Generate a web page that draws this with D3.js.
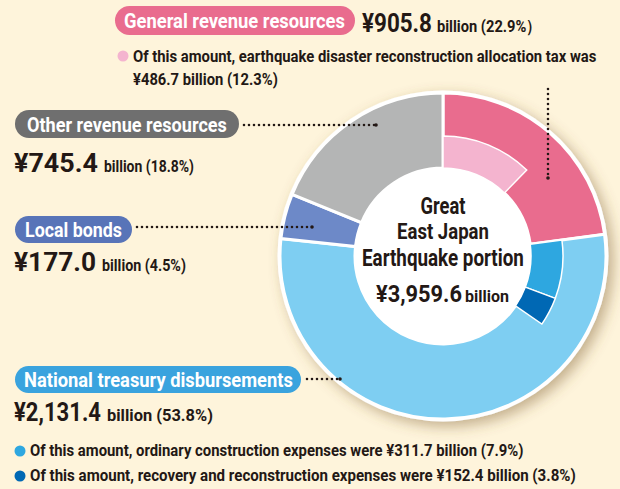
<!DOCTYPE html>
<html><head><meta charset="utf-8">
<script src="https://cdn.jsdelivr.net/npm/d3@7"></script>
<style>
html,body{margin:0;padding:0;background:#FEF4DB;}
svg{display:block;}
text{font-family:"Roboto","Liberation Sans",sans-serif;font-weight:bold;fill:#231815;}
</style></head>
<body>
<svg id="c" width="620" height="489"></svg>
<script>
// ---- data ----
const categories = ["General revenue resources","National treasury disbursements","Local bonds","Other revenue resources"];
const values = [905.8, 2131.4, 177.0, 745.4];           // ¥ billion
const shares = ["22.9%","53.8%","4.5%","18.8%"];
const colors = ["#E96C8E","#7ECEF2","#6D89C8","#B4B5B5"];
const pillColors = ["#E96C8E","#3AA3DE","#5874B8","#6F6F6F"];
// sub-portions (inside parent category)
const subParents = [0, 1, 1];
const subLabels = ["earthquake disaster reconstruction allocation tax","ordinary construction expenses","recovery and reconstruction expenses"];
const subValues = [486.7, 311.7, 152.4];
const subShares = ["12.3%","7.9%","3.8%"];
const subColors = ["#F4B4CF","#2EA7E0","#0068B4"];
const centerLines = ["Great","East Japan","Earthquake portion"];
const totalLabel = "¥3,959.6";

const svg = d3.select("#c");
const W = 620, H = 489;
svg.append("rect").attr("width",W).attr("height",H).attr("fill","#FEF4DB");

// condensed text helper: draws text at (x,y) squeezed horizontally to width w
function ctext(parent, x, y, str, size, w, anchor, fill){
  const g = parent.append("g");
  const t = g.append("text").attr("font-size",size).text(str);
  if (fill) t.style("fill",fill);
  const nat = t.node().getComputedTextLength();
  const sx = w / nat;
  let x0 = x;
  if (anchor === "middle") x0 = x - w/2;
  g.attr("transform",`translate(${x0},${y}) scale(${sx},1)`);
  return g;
}

const defs = svg.append("defs");
const f = defs.append("filter").attr("id","sh").attr("x","-30%").attr("y","-30%").attr("width","160%").attr("height","160%");
f.append("feDropShadow").attr("dx",5).attr("dy",5).attr("stdDeviation",7).attr("flood-color","#7a5a2a").attr("flood-opacity",0.45);

const cx = 443, cy = 256, R = 163, rIn = 88, rSub = 120;
const total = d3.sum(values);
const ang = d3.scaleLinear().domain([0,total]).range([0,2*Math.PI]);

const g = svg.append("g").attr("transform",`translate(${cx},${cy})`);
g.append("circle").attr("r",R+2.5).attr("fill","#fff").attr("filter","url(#sh)");

const pie = d3.pie().sort(null).value(d=>d)(values);
const arcOuter = d3.arc().innerRadius(rIn).outerRadius(R);
g.selectAll("path.o").data(pie).join("path").attr("class","o")
  .attr("d",arcOuter).attr("fill",(d,i)=>colors[i])
  .attr("stroke","#fff").attr("stroke-width",3);

// sub ring
const starts = [];
let acc = 0;
values.forEach(v=>{starts.push(acc); acc+=v;});
const offsets = {};
const subArcs = subValues.map((v,i)=>{
  const p = subParents[i];
  const off = offsets[p]||0;
  offsets[p] = off + v;
  return {startAngle: ang(starts[p]+off), endAngle: ang(starts[p]+off+v)};
});
const arcSub = d3.arc().innerRadius(rIn).outerRadius(rSub);
g.selectAll("path.s").data(subArcs).join("path").attr("class","s")
  .attr("d",arcSub).attr("fill",(d,i)=>subColors[i])
  .attr("stroke","#fff").attr("stroke-width",1.5);

// center hole
g.append("circle").attr("r",rIn).attr("fill","#fff");
ctext(g, 0, -42, centerLines[0], 23, 45, "middle");
ctext(g, 0, -17, centerLines[1], 23, 92, "middle");
ctext(g, 0, 10, centerLines[2], 23, 162, "middle");
ctext(g, -67, 46, totalLabel, 23, 86);
ctext(g, 22, 46, "billion", 17, 44);

// ---- labels ----
function pill(x,y,w,h,color,label,tx,tw,fs){
  svg.append("rect").attr("x",x).attr("y",y).attr("width",w).attr("height",h).attr("rx",h/2).attr("fill",color);
  ctext(svg, tx, y+h/2+fs*0.36, label, fs, tw, "start", "#fff");
}
function amount(x,y,i,bigW,smallX,smallW){
  ctext(svg, x, y, "¥"+d3.format(",.1f")(values[i]), 26, bigW);
  ctext(svg, smallX, y, `billion (${shares[i]}${i===0?"）":")"}`, 17, smallW);
}
function dots(x1,y1,x2,y2){
  svg.append("line").attr("x1",x1).attr("y1",y1).attr("x2",x2).attr("y2",y2)
    .attr("stroke","#231815").attr("stroke-width",2.6).attr("stroke-linecap","round").attr("stroke-dasharray","0 5");
  svg.append("circle").attr("cx",x2).attr("cy",y2).attr("r",1.8).attr("fill","#231815");
}

// General revenue
pill(115,6,240,29,pillColors[0],categories[0],124,221,21);
amount(362,32,0,70,437,104);
svg.append("circle").attr("cx",123).attr("cy",56).attr("r",5.5).attr("fill",subColors[0]);
ctext(svg, 133, 62, `Of this amount, ${subLabels[0]} was`, 17, 464);
ctext(svg, 133, 85, `¥${subValues[0]} billion (${subShares[0]})`, 17, 145);
dots(548,89,548,178);

// Other revenue
pill(15,110,224,28,pillColors[3],categories[3],27,200,21);
amount(14,172,3,84,104,90);
dots(244,125,376,125);

// Local bonds
pill(15,216,117,27,pillColors[2],categories[2],25,97,21);
amount(14,271,2,82,102,84);
dots(137,227,312,227);

// National treasury
pill(15,366,286,27,pillColors[1],categories[1],24,269,21);
amount(14,421,1,87,107,106);
dots(307,379,340,379);

// sub bullets
[[1,451,456,494],[2,476,481,546]].forEach(([i,cyb,ty,tw])=>{
  svg.append("circle").attr("cx",20).attr("cy",cyb).attr("r",5.5).attr("fill",subColors[i]);
  ctext(svg, 30, ty, `Of this amount, ${subLabels[i]} were ¥${subValues[i]} billion (${subShares[i]})`, 17, tw);
});
</script>
</body></html>
